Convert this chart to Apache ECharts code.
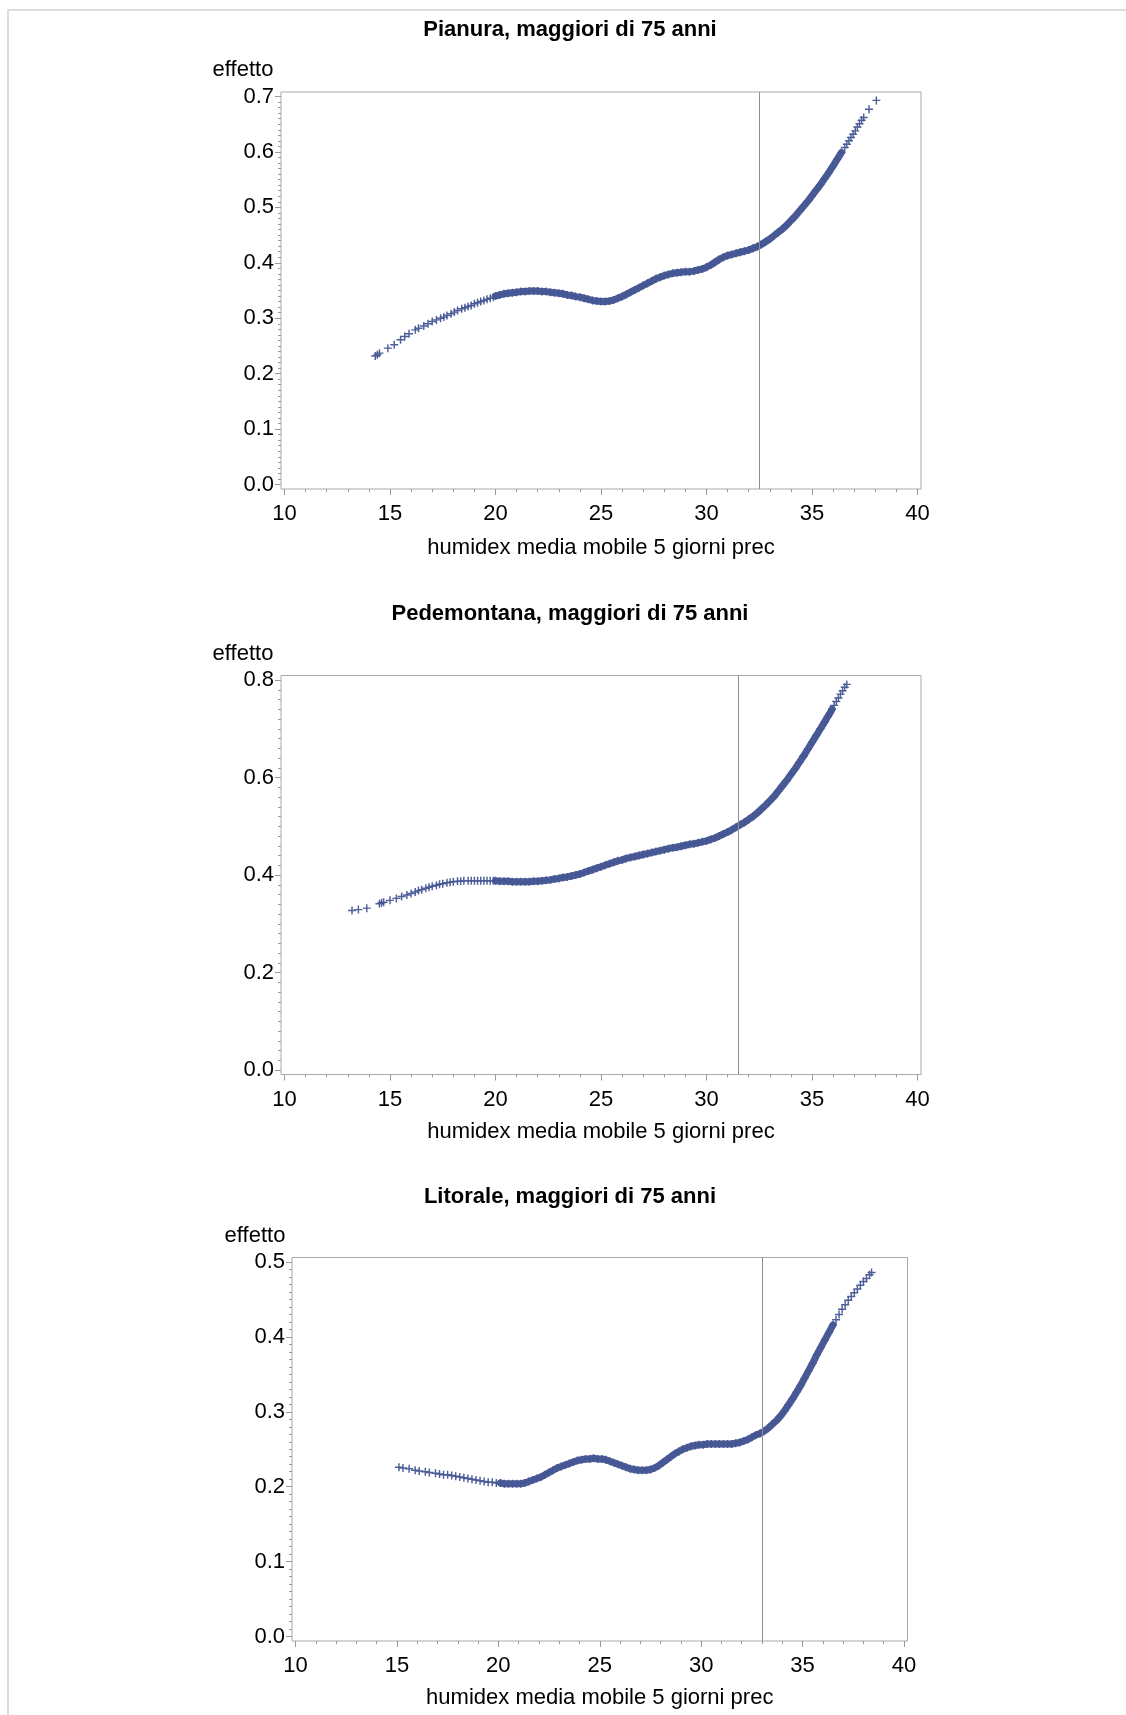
<!DOCTYPE html>
<html>
<head>
<meta charset="utf-8">
<script src="https://cdn.jsdelivr.net/npm/echarts@6/dist/echarts.min.js"></script>
<style>
  html, body { margin: 0; padding: 0; background: #ffffff; }
  #chart { width: 1126px; height: 1715px; }
</style>
</head>
<body>
<div id="chart"></div>
<script>
// ---- Data: estimated spline effect of humidex (5-day moving mean), people over 75 ----

const xTickValues = [10, 15, 20, 25, 30, 35, 40];
const xAxisName = 'humidex media mobile 5 giorni prec';
const yAxisName = 'effetto';

// Pianura
const pianuraTitle = 'Pianura, maggiori di 75 anni';
const pianuraYTicks = [0.0, 0.1, 0.2, 0.3, 0.4, 0.5, 0.6, 0.7];
const pianuraThreshold = 32.5;
const pianuraX = [
  14.3, 14.4, 14.5, 14.9, 15.2, 15.5, 15.7, 15.9, 16.2, 16.35, 16.6, 16.8, 17.0, 17.2, 17.4, 17.55, 17.7, 17.9,
  18.05, 18.2, 18.4, 18.55, 18.7, 18.85, 19.0, 19.15, 19.3, 19.45, 19.6, 19.75, 19.9,
  20.0, 20.2, 20.4, 20.6, 20.8, 21.0, 21.2, 21.4, 21.6, 21.8, 22.0, 22.2, 22.4, 22.6, 22.8,
  23.0, 23.2, 23.4, 23.6, 23.8, 24.0, 24.2, 24.4, 24.6, 24.8, 25.0, 25.2, 25.4, 25.6, 25.8,
  26.0, 26.2, 26.4, 26.6, 26.8, 27.0, 27.2, 27.4, 27.6, 27.8, 28.0, 28.2, 28.4, 28.6, 28.8,
  29.0, 29.2, 29.4, 29.6, 29.8, 30.0, 30.2, 30.4, 30.6, 30.8, 31.0, 31.2, 31.4, 31.6, 31.8,
  32.0, 32.2, 32.4, 32.6, 32.8, 33.0, 33.2, 33.4, 33.6, 33.8, 34.0, 34.2, 34.4, 34.6, 34.8,
  35.0, 35.2, 35.4, 35.6, 35.8, 36.0, 36.2, 36.4,
  36.55, 36.65, 36.75, 36.85, 36.95, 37.05, 37.15, 37.25, 37.35, 37.45, 37.7, 38.05
];
const pianuraY = [
  0.232, 0.234, 0.237, 0.246, 0.252, 0.261, 0.267, 0.272, 0.279, 0.282, 0.286, 0.290, 0.294, 0.297, 0.300, 0.302, 0.305, 0.308,
  0.311, 0.314, 0.317, 0.319, 0.321, 0.323, 0.326, 0.328, 0.330, 0.332, 0.334, 0.336, 0.338,
  0.340, 0.342, 0.344, 0.345, 0.346, 0.347, 0.348, 0.348, 0.349, 0.349, 0.349, 0.348, 0.348, 0.347, 0.346,
  0.345, 0.344, 0.342, 0.341, 0.339, 0.338, 0.336, 0.334, 0.332, 0.331, 0.330, 0.330, 0.331, 0.333, 0.336,
  0.339, 0.343, 0.347, 0.351, 0.355, 0.359, 0.363, 0.367, 0.371, 0.374, 0.377, 0.379, 0.381, 0.382, 0.383,
  0.384, 0.384, 0.385, 0.387, 0.389, 0.392, 0.396, 0.401, 0.406, 0.410, 0.413, 0.415, 0.417, 0.419, 0.421,
  0.423, 0.426, 0.429, 0.433, 0.438, 0.443, 0.449, 0.455, 0.461, 0.468, 0.476, 0.484, 0.493, 0.502, 0.511,
  0.521, 0.531, 0.541, 0.552, 0.563, 0.575, 0.587, 0.599,
  0.608, 0.614, 0.620, 0.626, 0.632, 0.638, 0.645, 0.651, 0.657, 0.662, 0.677, 0.693
];

// Pedemontana
const pedemontanaTitle = 'Pedemontana, maggiori di 75 anni';
const pedemontanaYTicks = [0.0, 0.2, 0.4, 0.6, 0.8];
const pedemontanaThreshold = 31.5;
const pedemontanaX = [
  13.2, 13.5, 13.9, 14.5, 14.6, 14.7, 15.0, 15.3, 15.55, 15.8, 16.0, 16.2, 16.35, 16.5, 16.7, 16.85, 17.0, 17.2,
  17.35, 17.5, 17.7, 17.85, 18.0, 18.2, 18.35, 18.5, 18.7, 18.85, 19.0, 19.15, 19.3, 19.45, 19.6, 19.75, 19.9,
  20.0, 20.2, 20.4, 20.6, 20.8, 21.0, 21.2, 21.4, 21.6, 21.8, 22.0, 22.2, 22.4, 22.6, 22.8,
  23.0, 23.2, 23.4, 23.6, 23.8, 24.0, 24.2, 24.4, 24.6, 24.8, 25.0, 25.2, 25.4, 25.6, 25.8,
  26.0, 26.2, 26.4, 26.6, 26.8, 27.0, 27.2, 27.4, 27.6, 27.8, 28.0, 28.2, 28.4, 28.6, 28.8,
  29.0, 29.2, 29.4, 29.6, 29.8, 30.0, 30.2, 30.4, 30.6, 30.8, 31.0, 31.2, 31.4, 31.6, 31.8,
  32.0, 32.2, 32.4, 32.6, 32.8, 33.0, 33.2, 33.4, 33.6, 33.8, 34.0, 34.2, 34.4, 34.6, 34.8,
  35.0, 35.2, 35.4, 35.6,
  35.75, 35.85, 35.95, 36.05, 36.15, 36.25, 36.35, 36.45, 36.55, 36.65
];
const pedemontanaY = [
  0.327, 0.329, 0.332, 0.341, 0.343, 0.344, 0.348, 0.352, 0.356, 0.359, 0.362, 0.365, 0.368, 0.370, 0.373, 0.375, 0.377, 0.379,
  0.381, 0.382, 0.384, 0.385, 0.386, 0.387, 0.387, 0.388, 0.388, 0.388, 0.388, 0.388, 0.388, 0.388, 0.388, 0.388, 0.388,
  0.388, 0.387, 0.387, 0.387, 0.386, 0.386, 0.386, 0.386, 0.386, 0.387, 0.387, 0.388, 0.389, 0.390, 0.392,
  0.393, 0.395, 0.396, 0.398, 0.400, 0.402, 0.405, 0.408, 0.411, 0.414, 0.417, 0.420, 0.423, 0.426, 0.429,
  0.431, 0.434, 0.436, 0.438, 0.440, 0.442, 0.444, 0.446, 0.448, 0.450, 0.452, 0.454, 0.456, 0.457, 0.459,
  0.461, 0.463, 0.464, 0.466, 0.468, 0.470, 0.473, 0.476, 0.480, 0.484, 0.488, 0.493, 0.498, 0.503, 0.508,
  0.514, 0.520, 0.527, 0.535, 0.543, 0.552, 0.561, 0.572, 0.583, 0.594, 0.606, 0.618, 0.631, 0.644, 0.658,
  0.672, 0.686, 0.700, 0.714,
  0.725, 0.732, 0.740, 0.748, 0.756, 0.763, 0.771, 0.778, 0.785, 0.791
];

// Litorale
const litoraleTitle = 'Litorale, maggiori di 75 anni';
const litoraleYTicks = [0.0, 0.1, 0.2, 0.3, 0.4, 0.5];
const litoraleThreshold = 33.0;
const litoraleX = [
  15.1, 15.3, 15.6, 15.9, 16.1, 16.4, 16.6, 16.9, 17.1, 17.3, 17.5, 17.7, 17.9, 18.1, 18.3, 18.5, 18.7, 18.9,
  19.1, 19.3, 19.5, 19.7, 19.9,
  20.1, 20.3, 20.5, 20.7, 20.9, 21.1, 21.3, 21.5, 21.7, 21.9, 22.1, 22.3, 22.5, 22.7, 22.9,
  23.1, 23.3, 23.5, 23.7, 23.9, 24.1, 24.3, 24.5, 24.7, 24.9, 25.1, 25.3, 25.5, 25.7, 25.9,
  26.1, 26.3, 26.5, 26.7, 26.9, 27.1, 27.3, 27.5, 27.7, 27.9, 28.1, 28.3, 28.5, 28.7, 28.9,
  29.1, 29.3, 29.5, 29.7, 29.9, 30.1, 30.3, 30.5, 30.7, 30.9, 31.1, 31.3, 31.5, 31.7, 31.9,
  32.1, 32.3, 32.5, 32.7, 32.9, 33.1, 33.3, 33.5, 33.7, 33.9, 34.1, 34.3, 34.5, 34.7, 34.9,
  35.1, 35.3, 35.5, 35.7, 35.9, 36.1, 36.3, 36.5,
  36.65, 36.8, 36.95, 37.1, 37.25, 37.4, 37.55, 37.7, 37.85, 38.0, 38.15, 38.3, 38.4
];
const litoraleY = [
  0.226, 0.225, 0.224, 0.222, 0.221, 0.220, 0.219, 0.218, 0.217, 0.216, 0.216, 0.215, 0.214, 0.213, 0.212, 0.211, 0.210, 0.209,
  0.208, 0.207, 0.206, 0.206, 0.205,
  0.205, 0.204, 0.204, 0.204, 0.204, 0.204, 0.205, 0.207, 0.209, 0.211, 0.213, 0.216, 0.219, 0.222, 0.225,
  0.227, 0.229, 0.231, 0.233, 0.235, 0.236, 0.237, 0.237, 0.238, 0.237, 0.237, 0.236, 0.234, 0.232, 0.230,
  0.228, 0.226, 0.224, 0.223, 0.222, 0.222, 0.222, 0.223, 0.225, 0.228, 0.232, 0.236, 0.240, 0.244, 0.247,
  0.250, 0.252, 0.254, 0.255, 0.256, 0.256, 0.257, 0.257, 0.257, 0.257, 0.257, 0.257, 0.257, 0.258, 0.259,
  0.261, 0.263, 0.266, 0.269, 0.271, 0.274, 0.278, 0.283, 0.288, 0.294, 0.301, 0.309, 0.317, 0.326, 0.335,
  0.345, 0.355, 0.365, 0.376, 0.386, 0.396, 0.406, 0.416,
  0.423, 0.430, 0.437, 0.443, 0.449, 0.454, 0.459, 0.464, 0.469, 0.474, 0.478, 0.483, 0.486
];

// ---- Layout ----
const FONT = '"Liberation Sans", Arial, Helvetica, sans-serif';
const FONT_SIZE = 22;
const MARK_COLOR = '#445694';
const FRAME_COLOR = '#a9a9a9';
const TICK_COLOR = '#9a9a9a';
const REF_COLOR = '#8f8f8f';
// plus-sign marker, 10x10 box
const PLUS = 'path://M4.1,0H5.9V4.1H10V5.9H5.9V10H4.1V5.9H0V4.1H4.1Z';

const panels = [
  { title: pianuraTitle, xs: pianuraX, ys: pianuraY, yTicks: pianuraYTicks, yMinorStep: 0.01, ref: pianuraThreshold,
    band: [20.0, 36.4],
    frame: { left: 281, top: 92, width: 640, height: 397 }, titleY: 30, nameLabelX: 243, nameLabelY: 70, xNameY: 548 },
  { title: pedemontanaTitle, xs: pedemontanaX, ys: pedemontanaY, yTicks: pedemontanaYTicks, yMinorStep: 0.02, ref: pedemontanaThreshold,
    band: [20.0, 35.95],
    frame: { left: 281, top: 675.5, width: 640, height: 399 }, titleY: 614, nameLabelX: 243, nameLabelY: 654, xNameY: 1132 },
  { title: litoraleTitle, xs: litoraleX, ys: litoraleY, yTicks: litoraleYTicks, yMinorStep: 0.01, ref: litoraleThreshold,
    band: [20.1, 36.5],
    frame: { left: 292, top: 1257.5, width: 615.5, height: 383.5 }, titleY: 1197, nameLabelX: 255, nameLabelY: 1236, xNameY: 1698 }
];

const PAD_X = 3.5;   // gap between frame and first/last x tick, px
const PAD_Y = 4.5;   // gap between frame and first/last y tick, px

function paddedRange(lo, hi, sizePx, padPx) {
  const perPx = (hi - lo) / (sizePx - 2 * padPx);
  return { min: lo - padPx * perPx, max: hi + padPx * perPx };
}
function stepValues(lo, hi, step, skipEvery) {
  const out = [];
  const n = Math.round((hi - lo) / step);
  for (let k = 0; k <= n; k++) {
    if (k % skipEvery !== 0) out.push(+(lo + k * step).toFixed(4));
  }
  return out;
}

const grids = [], xAxes = [], yAxes = [], series = [], graphics = [];

panels.forEach((p) => {
  const f = p.frame;
  grids.push({ left: f.left, top: f.top, width: f.width, height: f.height,
    show: true, borderColor: FRAME_COLOR, borderWidth: 1, backgroundColor: 'transparent', containLabel: false });
});
panels.forEach((p) => {
  const f = p.frame;
  grids.push({ left: f.left, top: f.top, width: f.width, height: f.height, show: false, containLabel: false });
});

panels.forEach((p, i) => {
  const f = p.frame;
  const xr = paddedRange(xTickValues[0], xTickValues[xTickValues.length - 1], f.width, PAD_X);
  const yLo = p.yTicks[0], yHi = p.yTicks[p.yTicks.length - 1];
  const yr = paddedRange(yLo, yHi, f.height, PAD_Y);
  const yMajorStep = p.yTicks[1] - p.yTicks[0];
  const yMinorPer = Math.round(yMajorStep / p.yMinorStep);

  xAxes[i] = {
    type: 'value', gridIndex: i, min: xr.min, max: xr.max, position: 'bottom',
    axisLine: { show: false, onZero: false }, splitLine: { show: false },
    axisTick: { show: true, length: 6, customValues: xTickValues, lineStyle: { color: TICK_COLOR, width: 1 } },
    axisLabel: { customValues: xTickValues, margin: 14, color: '#000', fontFamily: FONT, fontSize: FONT_SIZE,
      formatter: v => String(Math.round(v)) }
  };
  xAxes[3 + i] = {
    type: 'value', gridIndex: 3 + i, min: xr.min, max: xr.max, position: 'bottom',
    axisLine: { show: false, onZero: false }, splitLine: { show: false }, axisLabel: { show: false },
    axisTick: { show: true, length: 3, customValues: stepValues(10, 40, 1, 5), lineStyle: { color: TICK_COLOR, width: 1 } }
  };
  yAxes[i] = {
    type: 'value', gridIndex: i, min: yr.min, max: yr.max, position: 'left',
    axisLine: { show: false, onZero: false }, splitLine: { show: false },
    axisTick: { show: true, length: 6, customValues: p.yTicks, lineStyle: { color: TICK_COLOR, width: 1 } },
    axisLabel: { customValues: p.yTicks, margin: 7, color: '#000', fontFamily: FONT, fontSize: FONT_SIZE,
      formatter: v => v.toFixed(1) }
  };
  yAxes[3 + i] = {
    type: 'value', gridIndex: 3 + i, min: yr.min, max: yr.max, position: 'left',
    axisLine: { show: false, onZero: false }, splitLine: { show: false }, axisLabel: { show: false },
    axisTick: { show: true, length: 3, customValues: stepValues(yLo, yHi, p.yMinorStep, yMinorPer), lineStyle: { color: TICK_COLOR, width: 1 } }
  };

  const points = p.xs.map((x, k) => [x, p.ys[k]]);

  // where observations are packed tightly the markers merge into a solid band
  series.push({
    type: 'line', xAxisIndex: i, yAxisIndex: i,
    data: points.filter(d => d[0] >= p.band[0] && d[0] <= p.band[1]),
    showSymbol: false, smooth: false, silent: true, animation: false,
    lineStyle: { color: MARK_COLOR, width: 7, cap: 'round', join: 'round', opacity: 0.97 },
    z: 2
  });

  series.push({
    type: 'scatter', xAxisIndex: i, yAxisIndex: i,
    data: points,
    symbol: PLUS, symbolSize: 8, symbolKeepAspect: true,
    itemStyle: { color: MARK_COLOR, opacity: 0.95 },
    silent: true, animation: false, z: 3,
    markLine: {
      silent: true, symbol: 'none', animation: false,
      label: { show: false },
      lineStyle: { color: REF_COLOR, width: 1, type: 'solid' },
      data: [{ xAxis: p.ref }]
    }
  });

  const textStyle = (text, weight) => ({
    text, font: weight + FONT_SIZE + 'px ' + FONT, fill: '#000',
    align: 'center', verticalAlign: 'middle', textAlign: 'center', textVerticalAlign: 'middle'
  });
  graphics.push({ type: 'text', x: 570, y: p.titleY, style: textStyle(p.title, 'bold ') });
  graphics.push({ type: 'text', x: p.nameLabelX, y: p.nameLabelY, style: textStyle(yAxisName, '') });
  graphics.push({ type: 'text', x: f.left + f.width / 2, y: p.xNameY, style: textStyle(xAxisName, '') });
});

graphics.unshift({ type: 'rect', shape: { x: 8, y: 10, width: 1300, height: 1900 },
  style: { fill: 'none', stroke: '#dcdcdc', lineWidth: 2 }, silent: true });

const chart = echarts.init(document.getElementById('chart'), null, { renderer: 'canvas' });
chart.setOption({
  backgroundColor: '#ffffff',
  animation: false,
  grid: grids,
  xAxis: xAxes,
  yAxis: yAxes,
  series: series,
  graphic: graphics
});
</script>
</body>
</html>
